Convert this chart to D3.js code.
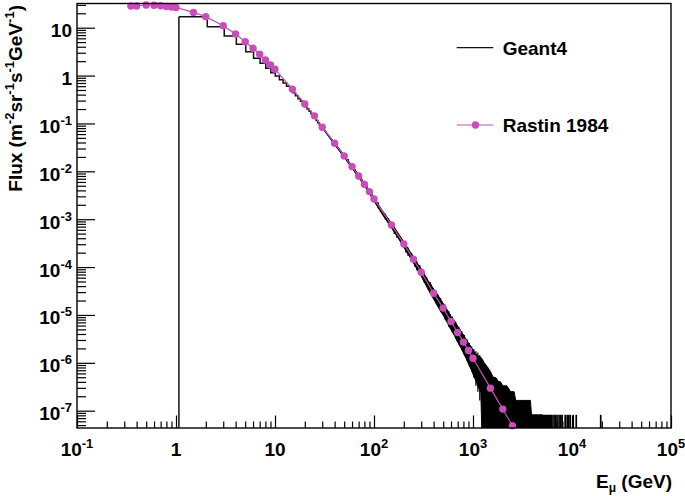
<!DOCTYPE html>
<html>
<head>
<meta charset="utf-8">
<script src="https://cdn.jsdelivr.net/npm/d3@7"></script>
<style>
  body { margin: 0; background: #fff; }
  svg { display: block; font-family: "Liberation Sans", Arial, sans-serif; font-weight: bold; }
</style>
</head>
<body>
<div id="chart"></div>
<script>
// Rastin 1984 (GeV, m^-2 sr^-1 s^-1 GeV^-1)
var rastinE = [0.35, 0.4, 0.5, 0.6, 0.7, 0.8, 0.9, 1.0, 1.5, 2, 3, 4, 5, 6, 7, 8, 9, 10,
  15, 20, 25, 30, 40, 50, 60, 70, 80, 90, 100, 150, 200, 250, 300, 400, 500, 600, 700,
  800, 900, 1000, 1500, 2000, 2500];
var rastinF = [28.4, 28.4, 29.8, 29.5, 28.7, 27.7, 27.1, 26.5, 20.9, 17.0, 11.0, 7.38, 5.1,
  3.72, 2.79, 2.12, 1.66, 1.36, 0.518, 0.255, 0.144, 0.0834, 0.0387, 0.0210, 0.01254,
  0.0080, 0.00538, 0.00377, 0.00265, 7.6e-4, 3.05e-4, 1.46e-4, 7.8e-5, 2.84e-5, 1.39e-5,
  7.28e-6, 4.30e-6, 2.71e-6, 1.81e-6, 1.25e-6, 2.96e-7, 1.08e-7, 4.84e-8];

// Geant4 histogram, low energy bins (left edges) and contents
var g4Edges = [1.07, 2.07, 3.07, 4.07, 5.07, 6.07, 7.07, 8.07, 9.07, 10.07, 11.07, 12.07,
  13.07, 14.07, 15.07, 16.07, 17.07, 18.07, 19.07, 20.07, 21.07, 22.07, 23.07, 24.07,
  25.07, 26.07, 27.07, 28.07, 29.07, 30.07];
var g4Flux = [17, 10.5, 6.7, 4.5, 3.15, 2.30, 1.81, 1.42, 1.15, 0.98, 0.82, 0.70, 0.60,
  0.51, 0.44, 0.38, 0.33, 0.29, 0.255, 0.225, 0.20, 0.18, 0.16, 0.145, 0.13, 0.115,
  0.104, 0.094, 0.085];

// Geant4 fine-binned region: envelope of the noisy band (0 = empty bins reach the axis)
var bandE = [30.07, 35, 40, 45, 50, 60, 70, 80, 90, 100, 120, 150, 180, 200, 230, 250, 280,
  300, 350, 400, 450, 500, 550, 600, 650, 700, 750, 800, 850, 900, 950, 1000, 1050, 1100,
  1150, 1200, 1225, 1300, 1400, 1500, 1600, 1700, 1800, 1900, 2000, 2200, 2400, 2600,
  2700, 2900, 3200, 3500, 3800, 3900, 4200, 4600, 5000];
var bandHi = [0.086, 0.056, 0.040, 0.029, 0.0218, 0.0131, 0.0084, 0.0057, 0.0040, 0.0028,
  0.00157, 8.3e-4, 4.7e-4, 3.35e-4, 2.15e-4, 1.65e-4, 1.13e-4, 9.2e-5, 5.3e-5, 3.5e-5, 2.45e-5,
  1.75e-5, 1.28e-5, 9.4e-6, 7.5e-6, 5.8e-6, 4.7e-6, 3.8e-6, 3.1e-6, 2.6e-6, 2.2e-6, 1.85e-6,
  1.6e-6, 1.45e-6, 1.35e-6, 1.3e-6, 1.25e-6, 1.0e-6, 8.2e-7, 6.6e-7, 5.0e-7, 4.9e-7,
  4.1e-7, 4.0e-7, 3.3e-7, 3.3e-7, 2.5e-7, 2.5e-7, 1.64e-7, 1.64e-7, 1.64e-7, 1.64e-7,
  1.64e-7, 8.2e-8, 8.2e-8, 8.2e-8, 8.2e-8];
var bandLo = [0.080, 0.052, 0.036, 0.026, 0.0195, 0.0116, 0.0074, 0.0050, 0.0034, 0.0024,
  0.00130, 6.6e-4, 3.7e-4, 2.6e-4, 1.62e-4, 1.22e-4, 8.1e-5, 6.4e-5, 3.5e-5, 2.15e-5,
  1.4e-5, 9.8e-6, 6.9e-6, 4.9e-6, 3.7e-6, 2.7e-6, 2.1e-6, 1.6e-6, 1.25e-6, 9.5e-7, 7.5e-7,
  5.8e-7, 4.6e-7, 3.6e-7, 2.9e-7, 2.4e-7, 0, 0, 0, 0, 0, 0, 0, 0, 0, 0, 0, 0, 0, 0, 0, 0,
  0, 0, 0, 0, 0];

// single noisy bins sticking out of the band (energy, top, bottom)
var spikeE = [55, 65, 75, 85, 95, 110, 130, 140, 160, 170, 190, 210, 220, 240, 260, 270,
  290, 320, 340, 370, 380, 420, 440, 470, 480, 520, 540, 570, 590, 620, 640, 670, 690, 720,
  740, 770, 790, 820, 840, 870, 880, 920, 940, 970, 990, 1020, 1070, 1120, 1170];
var spikeTop = [0.0180, 0.0110, 0.0072, 0.0049, 0.0036, 0.0023, 0.00132, 0.00106, 7.0e-4,
  5.5e-4, 4.1e-4, 2.9e-4, 2.6e-4, 1.95e-4, 1.52e-4, 1.33e-4, 1.1e-4, 7.9e-5, 6.2e-5,
  4.9e-5, 4.3e-5, 3.3e-5, 2.7e-5, 2.25e-5, 2.0e-5, 1.65e-5, 1.38e-5, 1.2e-5, 1.03e-5,
  9.2e-6, 7.9e-6, 7.2e-6, 6.2e-6, 5.7e-6, 5.0e-6, 4.6e-6, 4.0e-6, 3.8e-6, 3.3e-6, 3.1e-6,
  2.8e-6, 2.6e-6, 2.3e-6, 2.2e-6, 1.95e-6, 1.95e-6, 1.75e-6, 1.65e-6, 1.45e-6];
var spikeBot = [0.0150, 0.0091, 0.0058, 0.0041, 0.0029, 0.0017, 9.8e-4, 7.5e-4, 4.9e-4,
  4.1e-4, 2.8e-4, 2.0e-4, 1.72e-4, 1.28e-4, 1.0e-4, 8.6e-5, 7.0e-5, 4.8e-5, 3.9e-5,
  2.8e-5, 2.6e-5, 1.75e-5, 1.55e-5, 1.15e-5, 1.1e-5, 8.0e-6, 7.2e-6, 5.6e-6, 5.2e-6,
  4.2e-6, 3.9e-6, 3.2e-6, 2.9e-6, 2.4e-6, 2.2e-6, 1.85e-6, 1.7e-6, 1.45e-6, 1.35e-6,
  1.1e-6, 1.1e-6, 8.6e-7, 8.2e-7, 6.6e-7, 6.4e-7, 4.9e-7, 3.3e-7, 2.5e-7, 1.64e-7];

// isolated single-event bins in the far tail
var tailE = [5000, 5120, 5240, 5370, 5500, 5630, 5760, 5900, 6040, 6180, 6280, 6580, 6800,
  7060, 7400, 7700, 7950, 8530, 8940, 9250, 9590, 10290, 11040, 19500];
var tailF = [8.2e-8, 8.2e-8, 8.2e-8, 8.2e-8, 8.2e-8, 8.2e-8, 8.2e-8, 8.2e-8, 8.2e-8, 8.2e-8,
  8.2e-8, 8.2e-8, 8.2e-8, 8.2e-8, 8.2e-8, 8.2e-8, 8.2e-8, 8.2e-8, 8.2e-8, 8.2e-8, 8.2e-8,
  8.2e-8, 8.2e-8, 8.2e-8];

var xMajors = [0.1, 1, 10, 100, 1e3, 1e4, 1e5];
var yMajors = [10, 1, 0.1, 1e-2, 1e-3, 1e-4, 1e-5, 1e-6, 1e-7];

var W = 685, H = 496;
var pL = 77, pR = 671, pT = 3.5, pB = 428;
var magenta = "#c94db8";

var svg = d3.select("#chart").append("svg")
  .attr("width", W).attr("height", H);

var x = d3.scaleLog().domain([0.1, 1e5]).range([pL, pR]);
var y = d3.scaleLog().domain([4.35e-8, 32.03]).range([pB, pT]);

// minor ticks 2..9 per decade
function minors(lo, hi) {
  var out = [];
  for (var e = Math.floor(Math.log10(lo)); e < Math.log10(hi); e++) {
    for (var k = 2; k <= 9; k++) {
      var v = k * Math.pow(10, e);
      if (v > lo && v < hi) out.push(v);
    }
  }
  return out;
}

svg.append("g")
  .attr("transform", "translate(0," + pB + ")")
  .call(d3.axisBottom(x).tickValues(xMajors).tickSize(-12.5).tickSizeOuter(0).tickFormat(""))
  .call(function(g) { g.select(".domain").remove(); });
svg.append("g")
  .attr("transform", "translate(0," + pB + ")")
  .call(d3.axisBottom(x).tickValues(minors(0.1, 1e5)).tickSize(-6.5).tickSizeOuter(0).tickFormat(""))
  .call(function(g) { g.select(".domain").remove(); });
svg.append("g")
  .attr("transform", "translate(" + pL + ",0)")
  .call(d3.axisLeft(y).tickValues(yMajors).tickSize(-18).tickSizeOuter(0).tickFormat(""))
  .call(function(g) { g.select(".domain").remove(); });
svg.append("g")
  .attr("transform", "translate(" + pL + ",0)")
  .call(d3.axisLeft(y).tickValues(minors(4.35e-8, 32.03)).tickSize(-9).tickSizeOuter(0).tickFormat(""))
  .call(function(g) { g.select(".domain").remove(); });
svg.selectAll(".tick line").attr("stroke", "#000").attr("stroke-width", 1.2);

// tick labels
function powLabel(sel, v) {
  var e = Math.round(Math.log10(v));
  if (e === 0) { sel.text("1"); return; }
  if (e === 1) { sel.text("10"); return; }
  sel.append("tspan").text("10");
  sel.append("tspan").attr("font-size", 13).attr("dy", -8).text(e);
}
xMajors.forEach(function(v) {
  var t = svg.append("text").attr("x", x(v)).attr("y", 456)
    .attr("text-anchor", "middle").attr("font-size", 19);
  powLabel(t, v);
});
yMajors.forEach(function(v) {
  var t = svg.append("text").attr("x", 72).attr("y", y(v) + 9.5)
    .attr("text-anchor", "end").attr("font-size", 19);
  powLabel(t, v);
});

// axis titles
var xt = svg.append("text").attr("x", 672).attr("y", 488)
  .attr("text-anchor", "end").attr("font-size", 19);
xt.append("tspan").text("E");
xt.append("tspan").attr("font-size", 12).attr("dy", 4).text("μ");
xt.append("tspan").attr("dy", -4).text(" (GeV)");

var yt = svg.append("text").attr("transform", "translate(22,5) rotate(-90)")
  .attr("text-anchor", "end").attr("font-size", 19);
[["Flux (m", 0], ["-2", 1], ["sr", 0], ["-1", 1], ["s", 0], ["-1", 1], ["GeV", 0], ["-1", 1], [")", 0]]
  .forEach(function(p, i, arr) {
    var prevSup = i > 0 && arr[i - 1][1];
    var ts = yt.append("tspan").text(p[0]);
    if (p[1]) ts.attr("font-size", 13).attr("dy", prevSup ? 0 : -8);
    else if (prevSup) ts.attr("dy", 8);
  });

// clip for data
svg.append("clipPath").attr("id", "clip").append("rect")
  .attr("x", pL).attr("y", pT).attr("width", pR - pL).attr("height", pB - pT);
var plot = svg.append("g").attr("clip-path", "url(#clip)");

// Geant4 low energy steps
var steps = g4Flux.map(function(f, i) { return [g4Edges[i], f]; });
steps.push([g4Edges[g4Edges.length - 1], g4Flux[g4Flux.length - 1]]);
plot.append("line")
  .attr("x1", x(g4Edges[0])).attr("x2", x(g4Edges[0]))
  .attr("y1", pB).attr("y2", y(g4Flux[0]))
  .attr("stroke", "#111").attr("stroke-width", 1.5);
plot.append("path")
  .datum(steps)
  .attr("d", d3.line().curve(d3.curveStepAfter)
    .x(function(d) { return x(d[0]); }).y(function(d) { return y(d[1]); }))
  .attr("fill", "none").attr("stroke", "#111").attr("stroke-width", 1.5);

// Geant4 noisy band
var band = bandE.map(function(e, i) { return {e: e, hi: bandHi[i], lo: bandLo[i]}; });
plot.append("path")
  .datum(band)
  .attr("d", d3.area()
    .x(function(d) { return x(d.e); })
    .y1(function(d) { return y(d.hi); })
    .y0(function(d) { return d.lo > 0 ? y(d.lo) : pB; }))
  .attr("fill", "#000").attr("stroke", "#000").attr("stroke-width", 1);

plot.selectAll(".spike")
  .data(spikeE)
  .enter().append("line")
  .attr("x1", function(d) { return x(d); }).attr("x2", function(d) { return x(d); })
  .attr("y1", function(d, i) { return y(spikeBot[i]); })
  .attr("y2", function(d, i) { return y(spikeTop[i]); })
  .attr("stroke", "#000").attr("stroke-width", 1.2);

// tail single bins
plot.selectAll(".tail")
  .data(tailE)
  .enter().append("line")
  .attr("x1", function(d) { return x(d); }).attr("x2", function(d) { return x(d); })
  .attr("y1", pB).attr("y2", function(d, i) { return y(tailF[i]); })
  .attr("stroke", "#000").attr("stroke-width", 1.7);

// Rastin line + markers
var rastin = rastinE.map(function(e, i) { return [e, rastinF[i]]; });
svg.append("path")
  .datum(rastin)
  .attr("d", d3.line().x(function(d) { return x(d[0]); }).y(function(d) { return y(d[1]); }))
  .attr("fill", "none").attr("stroke", magenta).attr("stroke-width", 1.2);
svg.selectAll(".pt")
  .data(rastin)
  .enter().append("circle")
  .attr("cx", function(d) { return x(d[0]); })
  .attr("cy", function(d) { return y(d[1]); })
  .attr("r", 3.7)
  .attr("fill", magenta);

// frame
svg.append("rect")
  .attr("x", pL).attr("y", pT).attr("width", pR - pL).attr("height", pB - pT)
  .attr("fill", "none").attr("stroke", "#000").attr("stroke-width", 1.4);

// legend
var leg = svg.append("g");
leg.append("line").attr("x1", 456.7).attr("x2", 493.3).attr("y1", 47.7).attr("y2", 47.7)
  .attr("stroke", "#111").attr("stroke-width", 1.2);
leg.append("text").attr("x", 502.7).attr("y", 55).attr("font-size", 19).text("Geant4");
leg.append("line").attr("x1", 456.7).attr("x2", 493.3).attr("y1", 125).attr("y2", 125)
  .attr("stroke", magenta).attr("stroke-width", 1.2);
leg.append("circle").attr("cx", 475.5).attr("cy", 125).attr("r", 3.7).attr("fill", magenta);
leg.append("text").attr("x", 502.7).attr("y", 131.7).attr("font-size", 19).text("Rastin 1984");
</script>
</body>
</html>
